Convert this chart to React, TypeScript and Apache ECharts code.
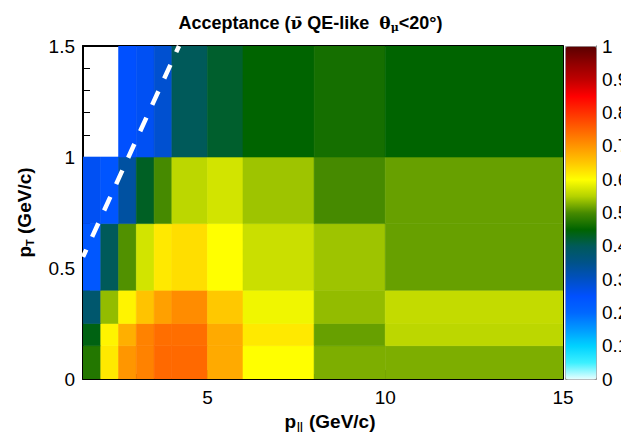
import React, { useEffect, useRef } from "react";
import * as echarts from "echarts";

// bin edges
const pParallelEdges = [1.5, 2, 2.5, 3, 3.5, 4, 5, 6, 8, 10, 15];
const pTEdges = [0, 0.15, 0.25, 0.4, 0.7, 1.0, 1.5];

// acceptance per pT row (bottom -> top), one value per p|| bin (null = empty)
const rowPT0 = [0.475, 0.62, 0.7, 0.72, 0.745, 0.745, 0.68, 0.6, 0.525, 0.525];
const rowPT1 = [0.44, 0.61, 0.675, 0.72, 0.74, 0.74, 0.68, 0.62, 0.515, 0.555];
const rowPT2 = [0.38, 0.535, 0.61, 0.655, 0.69, 0.71, 0.65, 0.59, 0.535, 0.56];
const rowPT3 = [0.235, 0.4, 0.505, 0.57, 0.62, 0.63, 0.6, 0.565, 0.54, 0.515];
const rowPT4 = [0.26, 0.24, 0.33, 0.43, 0.5, 0.555, 0.57, 0.54, 0.5, 0.515];
const rowPT5 = [null, null, 0.25, 0.26, 0.29, 0.4, 0.425, 0.45, 0.465, 0.45];
const acceptanceRows = [rowPT0, rowPT1, rowPT2, rowPT3, rowPT4, rowPT5];

// colour palette (0 -> 1)
const paletteStops = [
  "#eaffff", "#3cf0ff", "#00d2ff", "#009aff", "#0068ff", "#0050ff",
  "#0050c4", "#00528a", "#005a5a", "#006400", "#468a00", "#b4d200",
  "#ffff00", "#ffc800", "#ff9600", "#ff6400", "#ff3200", "#ff0000",
  "#c00000", "#900000", "#5a0000",
];

// theta = 20 degree boundary
const cutLine = [
  [1.5, 0.55],
  [4.2, 1.5],
];

const SANS = "'Liberation Sans', Arial, Helvetica, sans-serif";
const SERIF = "'DejaVu Serif', 'Liberation Serif', serif";

export default function App() {
  const ref = useRef<HTMLDivElement>(null);

  useEffect(() => {
    if (!ref.current) return;
    const chart = echarts.init(ref.current, undefined, { renderer: "svg" });

    const cells: any[] = [];
    acceptanceRows.forEach((row, i) => {
      row.forEach((v, j) => {
        if (v === null) return;
        cells.push([pParallelEdges[j], pParallelEdges[j + 1], pTEdges[i], pTEdges[i + 1], v]);
      });
    });

    const option: any = {
      animation: false,
      backgroundColor: "#ffffff",
      title: {
        left: "center",
        top: 8,
        text: "{b|Acceptance (}{s|\u03BD\u0304}{b| QE-like  }{s|\u03B8}{sub|\u03BC}{b|<20°)}",
        textStyle: {
          rich: {
            b: { fontFamily: SANS, fontWeight: "bold", fontSize: 18, color: "#000" },
            s: { fontFamily: SERIF, fontSize: 17, color: "#000" },
            sub: { fontFamily: SERIF, fontSize: 11, color: "#000", padding: [9, 0, 0, 0] },
          },
        },
      },
      grid: [
        { left: 83, top: 46, width: 480, height: 333, containLabel: false, outerBoundsMode: "none" },
        { left: 565, top: 46, width: 31, height: 333, containLabel: false, outerBoundsMode: "none" },
      ],
      visualMap: {
        type: "continuous",
        seriesIndex: 0,
        dimension: 4,
        min: 0,
        max: 1,
        calculable: false,
        hoverLink: false,
        orient: "vertical",
        left: 565,
        top: 46,
        itemWidth: 31,
        itemHeight: 333,
        padding: 0,
        borderColor: "#999",
        borderWidth: 1,
        inRange: { color: paletteStops },
      },
      xAxis: [
        {
          gridIndex: 0,
          type: "value",
          min: 1.5,
          max: 15,
          splitNumber: 3,
          axisLine: { show: true, onZero: false, lineStyle: { color: "#000", width: 2 } },
          axisTick: { show: true, inside: true, length: 9, lineStyle: { color: "#000", width: 1 } },
          minorTick: { show: true, splitNumber: 5, length: 5, lineStyle: { color: "#000", width: 1 } },
          axisLabel: { showMinLabel: false, fontSize: 19, color: "#000", margin: 9, fontFamily: SANS },
          splitLine: { show: false },
          name: "{b|p}{sub|||}{b| (GeV/c)}",
          nameLocation: "middle",
          nameGap: 28,
          nameTextStyle: {
            padding: [0, 0, 0, 14],
            rich: {
              b: { fontFamily: SANS, fontWeight: "bold", fontSize: 19, color: "#000" },
              sub: { fontFamily: SANS, fontWeight: "bold", fontSize: 10, color: "#000", padding: [11, 1, 0, 1] },
            },
          },
        },
        {
          gridIndex: 0,
          type: "value",
          position: "top",
          min: 1.5,
          max: 15,
          axisLine: { show: true, onZero: false, lineStyle: { color: "#000", width: 2 } },
          axisTick: { show: false },
          axisLabel: { show: false },
          splitLine: { show: false },
        },
        { gridIndex: 1, type: "value", min: 0, max: 1, show: false },
      ],
      yAxis: [
        {
          gridIndex: 0,
          type: "value",
          min: 0,
          max: 1.5,
          interval: 0.5,
          axisLine: { show: true, onZero: false, lineStyle: { color: "#000", width: 2 } },
          axisTick: { show: true, inside: true, length: 16, lineStyle: { color: "#000", width: 1 } },
          minorTick: { show: true, splitNumber: 5, length: 7, lineStyle: { color: "#000", width: 1 } },
          axisLabel: { fontSize: 19, color: "#000", margin: 8, fontFamily: SANS },
          splitLine: { show: false },
          name: "{b|p}{sub|T}{b| (GeV/c)}",
          nameLocation: "middle",
          nameGap: 48,
          nameTextStyle: {
            rich: {
              b: { fontFamily: SANS, fontWeight: "bold", fontSize: 19, color: "#000" },
              sub: { fontFamily: SANS, fontWeight: "bold", fontSize: 11, color: "#000", padding: [11, 0, 0, 0] },
            },
          },
        },
        {
          gridIndex: 0,
          type: "value",
          position: "right",
          min: 0,
          max: 1.5,
          axisLine: { show: true, onZero: false, lineStyle: { color: "#000", width: 1 } },
          axisTick: { show: false },
          axisLabel: { show: false },
          splitLine: { show: false },
        },
        {
          gridIndex: 1,
          type: "value",
          position: "right",
          min: 0,
          max: 1,
          interval: 0.1,
          axisLine: { show: true, onZero: false, lineStyle: { color: "#666", width: 1 } },
          axisTick: { show: true, inside: true, length: 15, lineStyle: { color: "#000", width: 1 } },
          axisLabel: { fontSize: 19, color: "#000", margin: 6, fontFamily: SANS },
          splitLine: { show: false },
        },
      ],
      series: [
        {
          type: "custom",
          xAxisIndex: 0,
          yAxisIndex: 0,
          dimensions: ["x0", "x1", "y0", "y1", "acc"],
          encode: { x: [0, 1], y: [2, 3] },
          data: cells,
          clip: true,
          silent: true,
          renderItem: (params: any, api: any) => {
            const p0 = api.coord([api.value(0), api.value(3)]);
            const p1 = api.coord([api.value(1), api.value(2)]);
            const c = api.visual("color");
            return {
              type: "rect",
              shape: { x: p0[0], y: p0[1], width: p1[0] - p0[0], height: p1[1] - p0[1] },
              style: { fill: c, stroke: c, lineWidth: 0.6 },
            };
          },
        },
        {
          type: "line",
          xAxisIndex: 0,
          yAxisIndex: 0,
          data: cutLine,
          symbol: "none",
          silent: true,
          z: 5,
          lineStyle: { color: "#ffffff", width: 4.5, type: [15, 14], dashOffset: 7 },
        },
      ],
    };

    chart.setOption(option);
    return () => chart.dispose();
  }, []);

  return (
    <div
      ref={ref}
      style={{ position: "absolute", left: 0, top: 0, width: 621, height: 434 }}
    />
  );
}
